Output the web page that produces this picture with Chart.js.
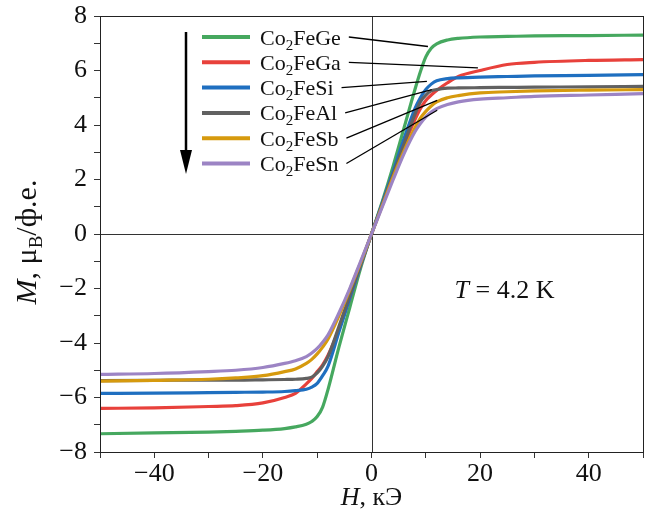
<!DOCTYPE html>
<html>
<head>
<meta charset="utf-8">
<script src="https://cdn.jsdelivr.net/npm/chart.js@4/dist/chart.umd.min.js"></script>
<style>
  html, body { margin: 0; padding: 0; background: #fff; }
  #wrap { width: 649px; height: 514px; }
</style>
</head>
<body>
<div id="wrap"><canvas id="myChart" width="649" height="514"></canvas></div>
<script>
// field H, kOe
const fieldH = [-50, -40, -30, -25, -20, -16, -14, -12, -11, -10, -9, -8, -6, -4, -2, 0, 2, 4, 6, 8, 9, 10, 11, 12, 14, 16, 20, 25, 30, 40, 50];

// magnetization M, muB per f.u.
const mGe = [-7.33, -7.3, -7.27, -7.24, -7.2, -7.14, -7.08, -6.98, -6.88, -6.7, -6.35, -5.7, -4.15, -2.7, -1.25, 0, 1.2, 2.5, 3.9, 5.3, 5.95, 6.5, 6.82, 6.98, 7.12, 7.18, 7.23, 7.25, 7.27, 7.28, 7.3];
const mGa = [-6.4, -6.38, -6.33, -6.3, -6.2, -6.0, -5.85, -5.5, -5.3, -5.05, -4.8, -4.45, -3.5, -2.35, -1.15, 0, 1.1, 2.2, 3.25, 4.2, 4.6, 4.9, 5.1, 5.27, 5.55, 5.78, 6.0, 6.22, 6.3, 6.37, 6.4];
const mSi = [-5.85, -5.84, -5.82, -5.81, -5.8, -5.78, -5.75, -5.7, -5.62, -5.48, -5.2, -4.85, -3.6, -2.35, -1.15, 0, 1.15, 2.3, 3.5, 4.6, 5.0, 5.3, 5.5, 5.62, 5.7, 5.73, 5.76, 5.78, 5.8, 5.82, 5.85];
const mAl = [-5.38, -5.37, -5.36, -5.36, -5.35, -5.34, -5.33, -5.3, -5.25, -5.1, -4.85, -4.5, -3.4, -2.25, -1.1, 0, 1.1, 2.2, 3.3, 4.4, 4.85, 5.1, 5.25, 5.3, 5.35, 5.36, 5.37, 5.38, 5.39, 5.4, 5.42];
const mSb = [-5.4, -5.37, -5.33, -5.28, -5.2, -5.05, -4.95, -4.75, -4.6, -4.4, -4.15, -3.85, -3.0, -2.05, -1.05, 0, 1.05, 2.1, 3.05, 3.9, 4.25, 4.5, 4.7, 4.85, 5.0, 5.08, 5.18, 5.22, 5.25, 5.28, 5.3];
const mSn = [-5.15, -5.12, -5.05, -5.0, -4.9, -4.75, -4.65, -4.5, -4.37, -4.2, -3.97, -3.7, -2.9, -2.0, -1.0, 0, 1.0, 2.0, 2.95, 3.75, 4.05, 4.3, 4.48, 4.6, 4.75, 4.85, 4.95, 5.0, 5.05, 5.1, 5.15];

// legend names after "Co2", leader line target (H, M)
const names = ['FeGe', 'FeGa', 'FeSi', 'FeAl', 'FeSb', 'FeSn'];
const leaderH = [10.4, 19.6, 10.2, 11.1, 12.1, 12.1];
const leaderM = [6.88, 6.1, 5.6, 5.3, 4.9, 4.54];

const colors = ['#46a85f', '#e8413b', '#1f6fc0', '#616161', '#d69a0e', '#9c84c4'];
const series = [mGe, mGa, mSi, mAl, mSb, mSn];

const serif = '"Liberation Serif", "Times New Roman", serif';
const minus = (v) => v < 0 ? '\u2212' + Math.abs(v) : String(v);

const datasets = series.map((vals, i) => ({
  label: 'Co2' + names[i],
  data: fieldH.map((h, k) => ({ x: h, y: vals[k] })),
  borderColor: colors[i],
  borderWidth: 3.2,
  pointRadius: 0,
  fill: false,
  cubicInterpolationMode: 'monotone',
  order: 6 - i
}));

// draws box, zero lines, legend, arrow, labels
const decor = {
  id: 'decor',
  beforeDatasetsDraw(chart) {
    const { ctx, chartArea: a, scales: { x, y } } = chart;
    ctx.save();
    ctx.strokeStyle = '#333';
    ctx.lineWidth = 1;
    const x0 = Math.round(x.getPixelForValue(0)) + 0.5;
    const y0 = Math.round(y.getPixelForValue(0)) + 0.5;
    ctx.beginPath();
    ctx.moveTo(x0, a.top); ctx.lineTo(x0, a.bottom);
    ctx.moveTo(a.left, y0); ctx.lineTo(a.right, y0);
    ctx.stroke();
    ctx.restore();
  },
  afterDraw(chart) {
    const { ctx, chartArea: a, scales: { x, y } } = chart;
    ctx.save();
    // frame
    ctx.strokeStyle = '#222';
    ctx.lineWidth = 1;
    ctx.strokeRect(Math.round(a.left) + 0.5, Math.round(a.top) + 0.5, Math.round(a.right - a.left), Math.round(a.bottom - a.top));

    // legend
    const fs = 22;
    const lx = a.left + 102;
    const ty = a.top + 21;
    ctx.textBaseline = 'alphabetic';
    for (let i = 0; i < names.length; i++) {
      const ry = ty + i * 25.3;
      ctx.strokeStyle = colors[i];
      ctx.lineWidth = 4;
      ctx.beginPath();
      ctx.moveTo(lx, ry); ctx.lineTo(lx + 48, ry);
      ctx.stroke();
      ctx.fillStyle = '#111';
      let tx = lx + 58;
      const base = ry + 7.5;
      ctx.font = fs + 'px ' + serif;
      ctx.fillText('Co', tx, base); tx += ctx.measureText('Co').width;
      ctx.font = '15px ' + serif;
      ctx.fillText('2', tx, base + 5); tx += ctx.measureText('2').width;
      ctx.font = fs + 'px ' + serif;
      ctx.fillText(names[i], tx, base); tx += ctx.measureText(names[i]).width;
      // leader line
      ctx.strokeStyle = '#000';
      ctx.lineWidth = 1.3;
      ctx.beginPath();
      ctx.moveTo(tx + 8, ry);
      ctx.lineTo(x.getPixelForValue(leaderH[i]), y.getPixelForValue(leaderM[i]));
      ctx.stroke();
    }

    // arrow
    const ax = a.left + 86;
    ctx.strokeStyle = '#000';
    ctx.fillStyle = '#000';
    ctx.lineWidth = 2.5;
    ctx.beginPath();
    ctx.moveTo(ax, a.top + 16); ctx.lineTo(ax, a.top + 138);
    ctx.stroke();
    ctx.beginPath();
    ctx.moveTo(ax - 6, a.top + 134);
    ctx.lineTo(ax + 6, a.top + 134);
    ctx.lineTo(ax, a.top + 158);
    ctx.closePath();
    ctx.fill();

    // T = 4.2 K
    ctx.fillStyle = '#111';
    let tx = x.getPixelForValue(15.3);
    const tb = y.getPixelForValue(-2.35);
    ctx.font = 'italic 26px ' + serif;
    ctx.fillText('T', tx, tb); tx += ctx.measureText('T').width;
    ctx.font = '26px ' + serif;
    ctx.fillText(' = 4.2 K', tx, tb);

    // x title
    const xt = (a.left + a.right) / 2;
    const xb = a.bottom + 53;
    ctx.font = 'italic 26px ' + serif;
    const wH = ctx.measureText('H').width;
    ctx.font = '26px ' + serif;
    const wR = ctx.measureText(', кЭ').width;
    let sx = xt - (wH + wR) / 2;
    ctx.font = 'italic 26px ' + serif;
    ctx.fillText('H', sx, xb);
    ctx.font = '26px ' + serif;
    ctx.fillText(', кЭ', sx + wH, xb);

    // y title
    ctx.translate(36, 242);
    ctx.rotate(-Math.PI / 2);
    const parts = [['M', 'italic 30px ', 0], [', μ', '30px ', 0], ['B', '19px ', 6], ['/ф.е.', '30px ', 0]];
    let total = 0;
    parts.forEach(p => { ctx.font = p[1] + serif; total += ctx.measureText(p[0]).width; });
    let px = -total / 2;
    parts.forEach(p => {
      ctx.font = p[1] + serif;
      ctx.fillText(p[0], px, p[2]);
      px += ctx.measureText(p[0]).width;
    });
    ctx.restore();
  }
};

new Chart(document.getElementById('myChart'), {
  type: 'line',
  data: { datasets },
  options: {
    responsive: false,
    animation: false,
    layout: { padding: { top: 16, right: 6, left: 0, bottom: 0 } },
    plugins: { legend: { display: false }, tooltip: { enabled: false } },
    scales: {
      x: {
        type: 'linear',
        min: -50, max: 50,
        afterFit(s) { s.height = 62; s.paddingLeft = 0; s.paddingRight = 0; },
        ticks: {
          stepSize: 10,
          color: '#111',
          font: { family: serif, size: 26 },
          padding: 1,
          maxRotation: 0,
          autoSkip: false,
          callback: (v) => v % 20 === 0 ? minus(v) : ''
        },
        grid: { drawOnChartArea: false, drawTicks: true, tickLength: 6, color: '#333' },
        border: { display: true, color: '#222' }
      },
      y: {
        min: -8, max: 8,
        afterFit(s) { s.width = 100; s.paddingTop = 0; s.paddingBottom = 0; },
        ticks: {
          stepSize: 1,
          color: '#111',
          font: { family: serif, size: 26 },
          padding: 7,
          autoSkip: false,
          callback: (v) => v % 2 === 0 ? minus(v) : ''
        },
        grid: { drawOnChartArea: false, drawTicks: true, tickLength: 6, color: '#333' },
        border: { display: true, color: '#222' }
      }
    }
  },
  plugins: [decor]
});
</script>
</body>
</html>
